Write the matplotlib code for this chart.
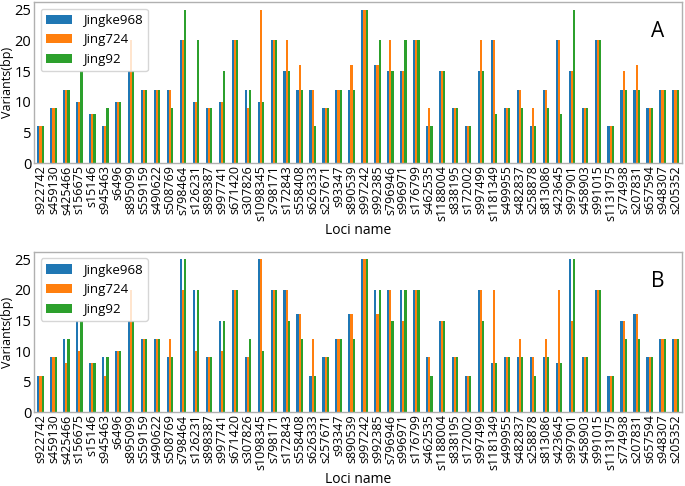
import matplotlib
matplotlib.use("Agg")
import matplotlib.pyplot as plt
import numpy as np

plt.rcParams['font.family'] = ['Open Sans', 'DejaVu Sans']

loci = ["s922742", "s459130", "s425466", "s156675", "s15146", "s945463", "s6496", "s895099",
        "s559159", "s490622", "s508769", "s798464", "s126231", "s898387", "s997741", "s671420",
        "s307826", "s1098345", "s798171", "s172843", "s558408", "s626333", "s257671", "s93347",
        "s890539", "s997242", "s992385", "s796946", "s996971", "s176799", "s462535", "s1188004",
        "s838195", "s172002", "s997499", "s1181349", "s499955", "s482837", "s258878", "s813086",
        "s423645", "s997901", "s458903", "s991015", "s1131975", "s774938", "s207831", "s657594",
        "s948307", "s205352"]

series_names = ["Jingke968", "Jing724", "Jing92"]

A_jingke968 = [6, 9, 12, 10, 8, 6, 10, 15, 12, 12, 12, 20, 10, 9, 10, 20, 12, 10, 20, 15,
               12, 12, 9, 12, 12, 25, 16, 15, 15, 20, 6, 15, 9, 6, 15, 20, 9, 12, 6, 12,
               20, 15, 9, 20, 6, 12, 12, 9, 12, 12]
A_jing724 = [6, 9, 12, 10, 8, 6, 10, 20, 12, 12, 12, 20, 10, 9, 10, 20, 9, 25, 20, 20,
             16, 12, 9, 12, 16, 25, 16, 20, 15, 20, 9, 15, 9, 6, 20, 20, 9, 12, 9, 12,
             20, 15, 9, 20, 6, 15, 16, 9, 12, 12]
A_jing92 = [6, 9, 12, 15, 8, 9, 10, 15, 12, 12, 9, 25, 20, 9, 15, 20, 12, 10, 20, 15,
            12, 6, 9, 12, 12, 25, 20, 15, 20, 20, 6, 15, 9, 6, 15, 8, 9, 9, 6, 9,
            8, 25, 9, 20, 6, 12, 12, 9, 12, 12]

B_jingke968 = [6, 9, 12, 15, 8, 9, 10, 15, 12, 12, 9, 25, 20, 9, 15, 20, 9, 25, 20, 20,
               16, 6, 9, 12, 16, 25, 20, 20, 20, 20, 9, 15, 9, 6, 20, 8, 9, 9, 9, 9,
               8, 25, 9, 20, 6, 15, 16, 9, 12, 12]
B_jing724 = [6, 9, 8, 10, 8, 6, 10, 20, 12, 12, 12, 20, 10, 9, 10, 20, 9, 25, 20, 20,
             16, 12, 9, 12, 16, 25, 16, 20, 15, 20, 9, 15, 9, 6, 20, 20, 9, 12, 9, 12,
             20, 15, 9, 20, 6, 15, 16, 9, 12, 12]
B_jing92 = [6, 9, 12, 15, 8, 9, 10, 15, 12, 12, 9, 25, 20, 9, 15, 20, 12, 10, 20, 15,
            12, 6, 9, 12, 12, 25, 20, 15, 20, 20, 6, 15, 9, 6, 15, 8, 9, 9, 6, 9,
            8, 25, 9, 20, 6, 12, 12, 9, 12, 12]

colors = ["#1f77b4", "#ff7f0e", "#2ca02c"]

W, H = 685, 486
fig = plt.figure(figsize=(W / 100, H / 100), dpi=100)

LEFT, RIGHT = 34, 682

def make_axes(top_px, bottom_px):
    return fig.add_axes([LEFT / W, 1 - bottom_px / H, (RIGHT - LEFT) / W, (bottom_px - top_px) / H])

panels = [
    ("A", make_axes(2, 163.3), [A_jingke968, A_jing724, A_jing92]),
    ("B", make_axes(251.7, 412.3), [B_jingke968, B_jing724, B_jing92]),
]

x = np.arange(len(loci))
total_w = 0.5
w = total_w / 3
for letter, ax, data in panels:
    for i, (name, vals, c) in enumerate(zip(series_names, data, colors)):
        ax.bar(x + (i - 1) * w, vals, width=w, color=c, label=name)
    ax.set_xlim(-0.5, len(loci) - 0.5)
    ax.set_ylim(0, 26.25)
    ax.set_yticks([0, 5, 10, 15, 20, 25])
    ax.set_xticks(x)
    ax.set_xticklabels(loci, rotation=90, fontsize=9)
    ax.tick_params(axis='x', length=0, pad=1.5)
    ax.tick_params(axis='y', length=0, pad=2, labelsize=10.5)
    for s in ax.spines.values():
        s.set_color("#b0b0b0")
        s.set_linewidth(1.0)
    ax.set_xlabel("Loci name", fontsize=10, labelpad=1)
    ax.set_ylabel("Variants(bp)", fontsize=9)
    ax.yaxis.set_label_coords((14 - LEFT) / (RIGHT - LEFT), 0.5)
    ax.legend(loc="upper left", fontsize=9.5)
    ax.text(0.963, 0.815, letter, transform=ax.transAxes, fontsize=15,
            ha="center", va="center")

fig.savefig("out.png", dpi=100)
